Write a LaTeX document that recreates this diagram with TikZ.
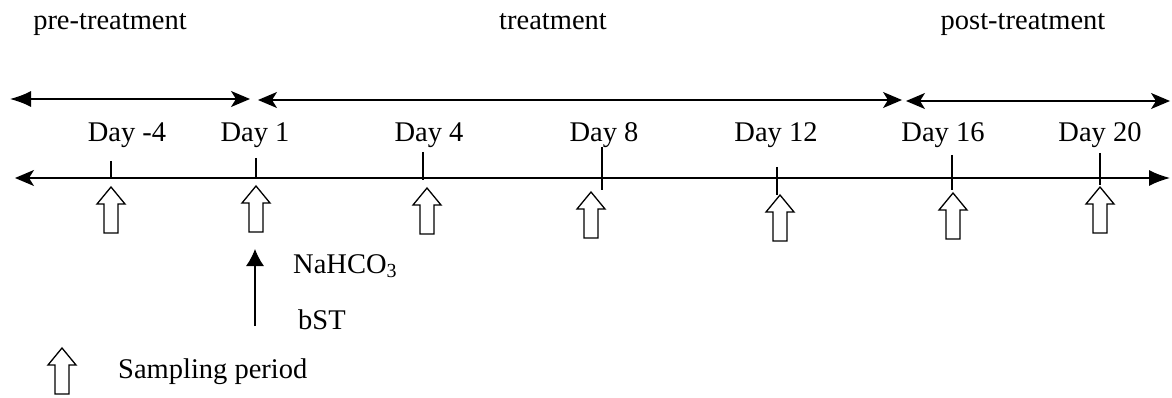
\documentclass[tikz,border=0pt]{standalone}
\usepackage{fontspec}
\setmainfont{Liberation Serif}
\usetikzlibrary{arrows.meta}
\tikzset{
  lbl/.style={font=\fontsize{28.5}{34}\selectfont, inner sep=0pt},
  ln/.style={line width=1.4pt},
  solidtip/.tip={Latex[length=21pt,width=16pt]},
  barbtip/.tip={Stealth[length=19pt,width=16pt,inset=5pt]},
  hollow/.style={line width=1.3pt, fill=white},
  tick/.style={line width=1.3pt},
}
\begin{document}
\begin{tikzpicture}[x=1pt,y=-1pt]
\useasboundingbox (0,0) rectangle (1172,398);
\fill[white] (0,0) rectangle (1172,398);

% phase titles
\node[lbl, anchor=base] (pre) at (110,30) {pre-treatment};
\node[lbl, anchor=base] (trt) at (553,30) {treatment};
\node[lbl, anchor=base] (post) at (1023,30) {post-treatment};

% phase arrows
\coordinate (p1a) at (10,99);  \coordinate (p1b) at (250,99);
\coordinate (p2a) at (258,100); \coordinate (p2b) at (902,100);
\coordinate (p3a) at (906,101); \coordinate (p3b) at (1170,101);
\draw[ln, {solidtip}-{barbtip}] (p1a) -- (p1b);
\draw[ln, {barbtip}-{barbtip}] (p2a) -- (p2b);
\draw[ln, {barbtip}-{barbtip}] (p3a) -- (p3b);

% time axis
\coordinate (axl) at (15,178); \coordinate (axr) at (1170,178);
\draw[ln, {barbtip}-{solidtip}] (axl) -- (axr);

% day labels
\node[lbl, anchor=base] (dm4) at (127,142) {Day -4};
\node[lbl, anchor=base] (d1) at (255,142) {Day 1};
\node[lbl, anchor=base] (d4) at (429,142) {Day 4};
\node[lbl, anchor=base] (d8) at (604,142) {Day 8};
\node[lbl, anchor=base] (d12) at (776,142) {Day 12};
\node[lbl, anchor=base] (d16) at (943,142) {Day 16};
\node[lbl, anchor=base] (d20) at (1100,142) {Day 20};

% ticks
\foreach \x/\a/\b in {111/161/178, 256/158/178, 423/152/180, 602/147/190, 777/167/195, 952/155/190, 1100/153/185}
  \draw[tick] (\x,\a) -- (\x,\b);

% sampling arrows (tip x, tip y)
\newcommand{\samparrow}[2]{%
  \draw[hollow] (#1,#2) -- ++(14,17) -- ++(-7,0) -- ++(0,29) -- ++(-14,0) -- ++(0,-29) -- ++(-7,0) -- cycle;}
\samparrow{111}{187}
\samparrow{256}{186}
\samparrow{427}{188}
\samparrow{591}{192}
\samparrow{780}{195}
\samparrow{953}{193}
\samparrow{1100}{187}

% treatment start arrow
\coordinate (trs) at (255,326); \coordinate (tre) at (255,249);
\draw[line width=1.1pt, -{Latex[length=17pt,width=18pt]}] (trs) -- (tre);
\node[lbl, anchor=base west] (na) at (293,273) {NaHCO\textsubscript{3}};
\node[lbl, anchor=base west] (bst) at (298,329) {bST};

% legend
\samparrow{62}{348}
\node[lbl, anchor=base west] (sp) at (118,378) {Sampling period};
\end{tikzpicture}
\end{document}
